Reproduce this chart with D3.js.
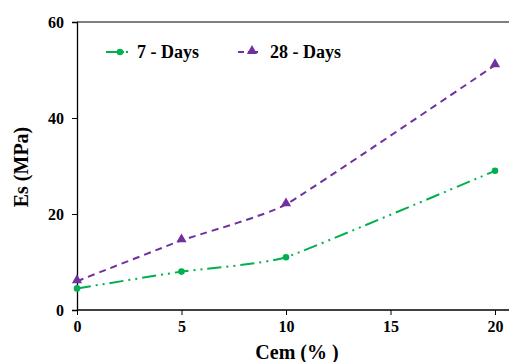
<!DOCTYPE html>
<html>
<head>
<meta charset="utf-8">
<script src="https://cdn.jsdelivr.net/npm/d3@7"></script>
<style>
  body { margin: 0; background: #fff; }
  text { font-family: "Liberation Serif", "Times New Roman", serif; font-weight: bold; }
</style>
</head>
<body>
<div id="chart"></div>
<script>
// chart values
var cem = [0, 5, 10, 20];
var days7 = [4.5, 8, 11, 29];
var days28 = [6, 14.5, 22, 51];
var seriesNames = ["7 - Days", "28 - Days"];
var xTicks = [0, 5, 10, 15, 20];
var yTicks = [0, 20, 40, 60];

var W = 509, H = 362;

var svg = d3.select("#chart").append("svg")
  .attr("width", W).attr("height", H);

var x = d3.scaleLinear().domain([0, 20]).range([77, 495]);
var y = d3.scaleLinear().domain([0, 60]).range([310, 22]);

// top border of plot area
svg.append("line")
  .attr("x1", 77).attr("x2", W)
  .attr("y1", y(60)).attr("y2", y(60))
  .attr("stroke", "#555").attr("stroke-width", 1.3);

// x axis
var xAxis = svg.append("g")
  .attr("transform", "translate(0," + y(0) + ")")
  .call(d3.axisBottom(x).tickValues(xTicks).tickSize(5).tickPadding(6).tickFormat(d3.format("d")));
xAxis.select(".domain").remove();
xAxis.append("line").attr("x1", 77).attr("x2", W).attr("stroke", "#000").attr("stroke-width", 1.3);
xAxis.selectAll(".tick line").attr("stroke", "#000");
xAxis.selectAll("text").style("font-size", "16px").attr("fill", "#000");

// y axis
var yAxis = svg.append("g")
  .attr("transform", "translate(" + x(0) + ",0)")
  .call(d3.axisLeft(y).tickValues(yTicks).tickSize(5).tickPadding(8).tickFormat(d3.format("d")));
yAxis.select(".domain").attr("stroke", "#000").attr("stroke-width", 1.3);
yAxis.selectAll("text").style("font-size", "16px").attr("fill", "#000");

// axis titles
svg.append("text")
  .attr("x", 297).attr("y", 359)
  .attr("text-anchor", "middle")
  .style("font-size", "20px")
  .text("Cem (% )");
svg.append("text")
  .attr("transform", "translate(28,167) rotate(-90)")
  .attr("text-anchor", "middle")
  .style("font-size", "20px")
  .text("Es (MPa)");

var green = "#00b050", purple = "#7030a0";
var line = d3.line().curve(d3.curveCardinal.tension(0.6))
  .x(function (d) { return x(d[0]); })
  .y(function (d) { return y(d[1]); });

var d7 = cem.map(function (c, i) { return [c, days7[i]]; });
var d28 = cem.map(function (c, i) { return [c, days28[i]]; });

// 28 days - dashed purple with triangles
svg.append("path").datum(d28)
  .attr("d", line).attr("fill", "none")
  .attr("stroke", purple).attr("stroke-width", 2)
  .attr("stroke-dasharray", "7,5");
svg.selectAll(".tri").data(d28).enter().append("path")
  .attr("d", d3.symbol().type(d3.symbolTriangle).size(45))
  .attr("transform", function (d) { return "translate(" + x(d[0]) + "," + (y(d[1]) - 1) + ")"; })
  .attr("fill", purple);

// 7 days - long dash dot dot green with circles
svg.append("path").datum(d7)
  .attr("d", line).attr("fill", "none")
  .attr("stroke", green).attr("stroke-width", 2)
  .attr("stroke-dasharray", "14,5,2,5,2,5");
svg.selectAll(".dot").data(d7).enter().append("circle")
  .attr("cx", function (d) { return x(d[0]); })
  .attr("cy", function (d) { return y(d[1]); })
  .attr("r", 3.3)
  .attr("fill", green);

// legend
var leg = svg.append("g");
leg.append("line").attr("x1", 106).attr("x2", 124).attr("y1", 52).attr("y2", 52)
  .attr("stroke", green).attr("stroke-width", 2);
leg.append("line").attr("x1", 126).attr("x2", 128).attr("y1", 52).attr("y2", 52)
  .attr("stroke", green).attr("stroke-width", 2);
leg.append("circle").attr("cx", 120).attr("cy", 52).attr("r", 3.3).attr("fill", green);
leg.append("text").attr("x", 137).attr("y", 58).style("font-size", "18px").text(seriesNames[0]);

leg.append("line").attr("x1", 238).attr("x2", 244).attr("y1", 52).attr("y2", 52)
  .attr("stroke", purple).attr("stroke-width", 2);
leg.append("line").attr("x1", 248).attr("x2", 258).attr("y1", 52).attr("y2", 52)
  .attr("stroke", purple).attr("stroke-width", 2);
leg.append("path")
  .attr("d", d3.symbol().type(d3.symbolTriangle).size(45))
  .attr("transform", "translate(252,51)")
  .attr("fill", purple);
leg.append("text").attr("x", 270).attr("y", 58).style("font-size", "18px").text(seriesNames[1]);
</script>
</body>
</html>
